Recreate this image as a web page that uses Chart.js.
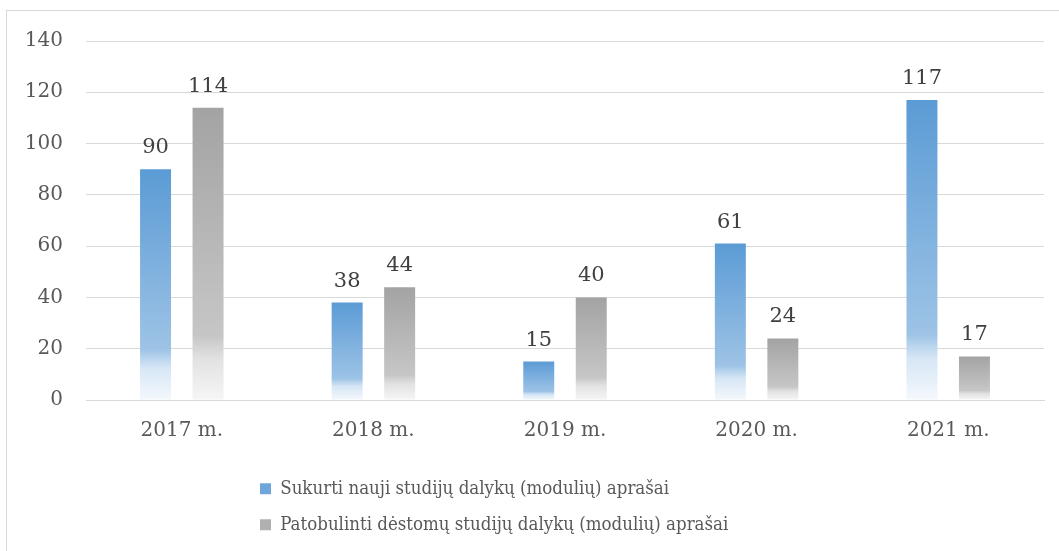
<!DOCTYPE html>
<html>
<head>
<meta charset="utf-8">
<script src="https://cdn.jsdelivr.net/npm/chart.js@4.4.1/dist/chart.umd.min.js"></script>
<style>
  html, body { margin: 0; padding: 0; background: #fff; overflow: hidden; }
  #frame { position: absolute; left: 6px; top: 10px; width: 1100px; height: 600px; border: 1px solid #d9d9d9; }
  #wrap { position: absolute; left: 0; top: 0; width: 1059px; height: 551px; }
</style>
</head>
<body>
<div id="frame"></div>
<div id="wrap"><canvas id="chart"></canvas></div>
<script>
// Chart data
const years = ['2017 m.', '2018 m.', '2019 m.', '2020 m.', '2021 m.'];
const newDescriptions = [90, 38, 15, 61, 117];
const improvedDescriptions = [114, 44, 40, 24, 17];
const seriesNames = [
    'Sukurti nauji studijų dalykų (modulių) aprašai',
    'Patobulinti dėstomų studijų dalykų (modulių) aprašai'
];

const FONT = 'DejaVu Serif';
const LEGEND_FONT = '"DejaVu Serif Condensed", "DejaVu Serif"';
const TEXT = '#595959';

// vertical fade per bar: solid at top, lighter, then almost white at the base
function barFill(top, mid, light, base) {
    return (ctx) => {
        const chart = ctx.chart;
        if (typeof ctx.raw !== 'number' || !chart.chartArea) return top;
        const y = chart.scales.y;
        const yTop = y.getPixelForValue(ctx.raw);
        const yBase = y.getPixelForValue(0);
        const g = chart.ctx.createLinearGradient(0, yTop, 0, yBase);
        g.addColorStop(0, top);
        g.addColorStop(0.78, mid);
        g.addColorStop(0.86, light);
        g.addColorStop(1, base);
        return g;
    };
}

// numbers above the bars
const valueLabels = {
    id: 'valueLabels',
    afterDatasetsDraw(chart) {
        const c = chart.ctx;
        c.save();
        c.font = '21px "' + FONT + '"';
        c.fillStyle = '#404040';
        c.textAlign = 'center';
        c.textBaseline = 'alphabetic';
        chart.data.datasets.forEach((ds, i) => {
            chart.getDatasetMeta(i).data.forEach((bar, j) => {
                c.fillText(ds.data[j], bar.x, bar.y - 16);
            });
        });
        c.restore();
    }
};

// Excel-style legend: one entry per row, left aligned under the plot
const legendShift = {
    id: 'legendShift',
    afterLayout(chart) {
        const lg = chart.legend;
        lg.left = 242.5;
        lg.top = 462;
        lg.bottom = 551;
        lg.height = 89;
    }
};

const legendColors = ['#6fa6da', '#b0b0b0'];

new Chart(document.getElementById('chart'), {
    type: 'bar',
    data: {
        labels: years,
        datasets: [
            {
                label: seriesNames[0],
                data: newDescriptions,
                backgroundColor: barFill('#5b9bd5', '#9dc3e6', '#d6e6f5', '#f4f8fc')
            },
            {
                label: seriesNames[1],
                data: improvedDescriptions,
                backgroundColor: barFill('#a3a3a3', '#c6c6c6', '#e2e2e2', '#f6f6f6')
            }
        ]
    },
    options: {
        responsive: true,
        maintainAspectRatio: false,
        animation: false,
        categoryPercentage: 0.548,
        barPercentage: 0.59,
        layout: { padding: { top: 41, right: 15, left: 0, bottom: 43 } },
        scales: {
            x: {
                grid: { display: false, drawTicks: false },
                border: { color: '#d9d9d9' },
                ticks: { color: TEXT, padding: 19, font: { family: FONT, size: 20 } }
            },
            y: {
                min: 0,
                max: 140,
                afterFit(scale) { scale.width = 86; },
                ticks: { stepSize: 20, color: TEXT, padding: 23, font: { family: FONT, size: 20 } },
                grid: { color: '#d9d9d9', drawTicks: false },
                border: { display: false }
            }
        },
        plugins: {
            tooltip: { enabled: false },
            legend: {
                position: 'bottom',
                align: 'start',
                labels: {
                    color: TEXT,
                    boxWidth: 11,
                    boxHeight: 11,
                    padding: 17.5,
                    font: { family: LEGEND_FONT, size: 18.5 },
                    generateLabels(chart) {
                        const items = Chart.defaults.plugins.legend.labels.generateLabels(chart);
                        items.forEach((it, i) => {
                            it.fillStyle = legendColors[i];
                            it.strokeStyle = legendColors[i];
                            it.lineWidth = 0;
                        });
                        return items;
                    }
                }
            }
        }
    },
    plugins: [valueLabels, legendShift]
});
</script>
</body>
</html>
